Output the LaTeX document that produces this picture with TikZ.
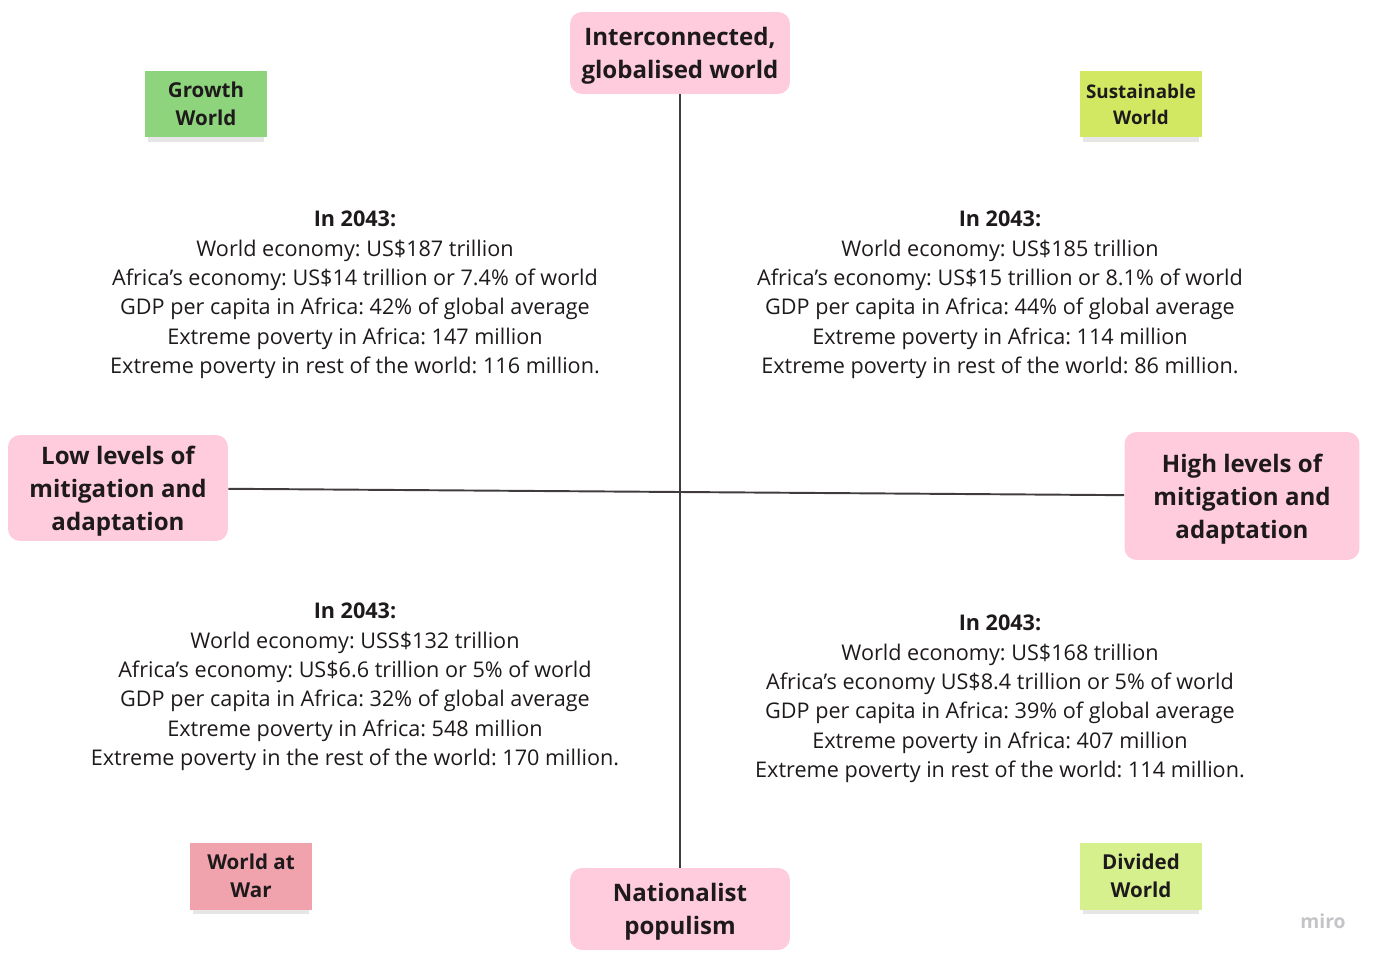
\documentclass[tikz,border=0pt]{standalone}
\usepackage{fontspec}
\setmainfont{Open Sans}
\usetikzlibrary{positioning, calc, shadows}
\definecolor{axispink}{HTML}{FFCCDD}
\definecolor{inkdark}{HTML}{1E1A1C}
\definecolor{notegreen}{HTML}{8ED47C}
\definecolor{notelime}{HTML}{D2E862}
\definecolor{noterose}{HTML}{F0A3AC}
\definecolor{notepale}{HTML}{D6F08E}
\definecolor{logogrey}{HTML}{C4C4C8}
\frenchspacing

\begin{document}
\begin{tikzpicture}[x=0.02cm, y=-0.02cm,
    axisbox/.style={fill=axispink, rounded corners=6.8pt, align=center, text=inkdark,
      font={\fontsize{13.7}{18.7}\selectfont\bfseries}, inner sep=0pt, text depth=0pt},
    sticky/.style={minimum width=2.46cm, minimum height=1.34cm, align=center, inner sep=0pt,
      text=inkdark, font={\fontsize{11.7}{15.9}\selectfont\bfseries},
      drop shadow={shadow xshift=0pt, shadow yshift=-3.5pt, shadow scale=0.95, opacity=0.2}},
    facts/.style={align=center, text=inkdark, font={\fontsize{12.3}{16.7}\selectfont}},
    axisline/.style={draw=inkdark!85, line width=1.1pt}]
  \useasboundingbox (0,0) rectangle (1377,960);

  % axes
  \node[axisbox, minimum width=4.4cm, minimum height=1.64cm] (global) at (680,53)
    {Interconnected,\\globalised world};
  \node[axisbox, minimum width=4.4cm, minimum height=1.64cm] (nation) at (680,909)
    {Nationalist\\populism};
  \node[axisbox, minimum width=4.4cm, minimum height=2.12cm] (lowmit) at (118,488)
    {Low levels of\\mitigation and\\adaptation};
  \node[axisbox, minimum width=4.7cm, minimum height=2.56cm] (highmit) at (1242,496)
    {High levels of\\mitigation and\\adaptation};
  \draw[axisline] (global) -- (nation);
  \draw[axisline] (lowmit) -- (highmit);

  % scenario notes
  \node[sticky, fill=notegreen] (growth) at (206,104) {Growth\\World};
  \node[sticky, fill=notelime, font={\fontsize{10.7}{14.8}\selectfont\bfseries}] (sustain) at (1141,104) {Sustainable\\World};
  \node[sticky, fill=noterose] (war) at (251,876) {World at\\War};
  \node[sticky, fill=notepale] (divided) at (1141,876) {Divided\\World};

  % figures for 2043
  \node[facts, anchor=north] (growthtxt) at (355,205) {\textbf{In 2043:}\\
    World economy: US\$187 trillion\\
    Africa's economy: US\$14 trillion or 7.4\% of world\\
    GDP per capita in Africa: 42\% of global average\\
    Extreme poverty in Africa: 147 million\\
    Extreme poverty in rest of the world: 116 million.};
  \node[facts, anchor=north] (sustaintxt) at (1000,205) {\textbf{In 2043:}\\
    World economy: US\$185 trillion\\
    Africa's economy: US\$15 trillion or 8.1\% of world\\
    GDP per capita in Africa: 44\% of global average\\
    Extreme poverty in Africa: 114 million\\
    Extreme poverty in rest of the world: 86 million.};
  \node[facts, anchor=north] (wartxt) at (355,597) {\textbf{In 2043:}\\
    World economy: USS\$132 trillion\\
    Africa's economy: US\$6.6 trillion or 5\% of world\\
    GDP per capita in Africa: 32\% of global average\\
    Extreme poverty in Africa: 548 million\\
    Extreme poverty in the rest of the world: 170 million.};
  \node[facts, anchor=north] (dividedtxt) at (1000,609) {\textbf{In 2043:}\\
    World economy: US\$168 trillion\\
    Africa's economy US\$8.4 trillion or 5\% of world\\
    GDP per capita in Africa: 39\% of global average\\
    Extreme poverty in Africa: 407 million\\
    Extreme poverty in rest of the world: 114 million.};

  \node[text=logogrey, font={\fontsize{11}{13}\selectfont\bfseries}] (logo) at (1323,921) {miro};
\end{tikzpicture}
\end{document}
